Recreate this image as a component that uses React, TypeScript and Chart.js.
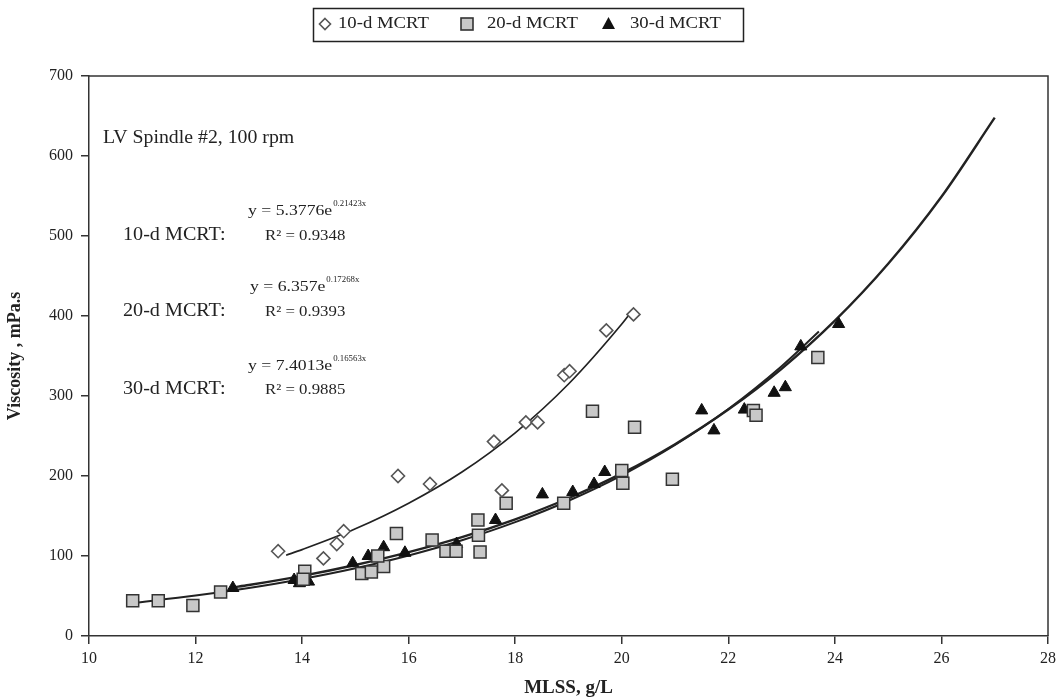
import React, { useEffect, useRef } from "react";
import { Chart, registerables } from "chart.js";

Chart.register(...registerables);

const FONT = "'Liberation Serif', 'Times New Roman', serif";

const xTickValues = [10, 12, 14, 16, 18, 20, 22, 24, 26, 28];
const yTickValues = [0, 100, 200, 300, 400, 500, 600, 700];

const seriesNames = ["10-d MCRT", "20-d MCRT", "30-d MCRT"];

// 10-d MCRT observations
const mlss10 = [13.55, 14.4, 14.65, 14.78, 15.8, 16.4, 17.6, 17.75, 18.2, 18.42, 18.92, 19.02, 19.71, 20.22];
const visc10 = [106, 97, 115, 131, 200, 190, 243, 182, 267, 267, 326, 331, 382, 402];

// 20-d MCRT observations
const mlss20 = [10.82, 11.3, 11.95, 12.47, 14.05, 14.02, 15.12, 15.3, 15.53, 15.42, 15.77, 16.44, 16.7, 16.89, 17.3, 17.31, 17.34, 17.83, 18.91, 19.45, 20.0, 20.02, 20.24, 20.95, 22.47, 22.52, 23.68];
const visc20 = [44, 44, 38, 55, 81, 71, 78, 80, 87, 100, 128, 120, 106, 106, 145, 126, 105, 166, 166, 281, 207, 191, 261, 196, 282, 276, 348];

// 30-d MCRT observations
const mlss30 = [12.7, 13.85, 13.95, 14.12, 14.95, 15.24, 15.53, 15.93, 16.9, 17.63, 18.51, 19.08, 19.48, 19.68, 21.5, 21.73, 22.3, 22.86, 23.07, 23.36, 24.07];
const visc30 = [60, 70, 66, 68, 91, 100, 111, 104, 115, 145, 177, 180, 190, 205, 282, 257, 283, 304, 311, 362, 390];

// trend curves
const fit10X = [13.7, 14, 15, 16, 17, 18, 19, 20, 20.2];
const fit10Y = [101, 108, 134, 166, 205, 254, 315, 390, 407];
const fit20X = [10.8, 12, 13, 14, 15, 16, 17, 18, 19, 20, 21, 22, 23, 23.7];
const fit20Y = [41, 50.5, 60, 71.3, 84.7, 100.7, 119.7, 142.3, 169.1, 200.9, 238.8, 283.8, 337.3, 380.6];
const fit30X = [12.7, 13, 14, 15, 16, 17, 18, 19, 20, 21, 22, 23, 24, 25, 26, 27];
const fit30Y = [60.7, 63.7, 75.2, 88.8, 104.8, 123.6, 145.9, 172.2, 203.2, 239.8, 283.0, 334.0, 394.1, 465.2, 549.0, 647.9];

const noteText = "LV Spindle #2, 100 rpm";
const eqLabels = ["10-d MCRT:", "20-d MCRT:", "30-d MCRT:"];
const eqMain = ["y = 5.3776e", "y = 6.357e", "y = 7.4013e"];
const eqExp = ["0.21423x", "0.17268x", "0.16563x"];
const eqR2 = ["R\u00B2 = 0.9348", "R\u00B2 = 0.9393", "R\u00B2 = 0.9885"];

const toPts = (xs: number[], ys: number[]) => xs.map((x, i) => ({ x, y: ys[i] }));

function drawStretched(ctx: CanvasRenderingContext2D, text: string, x: number, y: number, font: string, sx: number, align: string = "left") {
  ctx.save();
  ctx.font = font;
  ctx.textBaseline = "middle";
  ctx.textAlign = "left";
  const w = ctx.measureText(text).width * sx;
  let x0 = x;
  if (align === "center") x0 = x - w / 2;
  else if (align === "right") x0 = x - w;
  ctx.translate(x0, y);
  ctx.scale(sx, 1);
  ctx.fillText(text, 0, 0);
  ctx.restore();
  return x0 + w;
}

const decorPlugin = {
  id: "decor",
  afterDraw(chart: any) {
    const ctx: CanvasRenderingContext2D = chart.ctx;
    const ca = chart.chartArea;
    ctx.save();
    // top & right frame
    ctx.strokeStyle = "#333";
    ctx.lineWidth = 1.5;
    ctx.beginPath();
    ctx.moveTo(ca.left, ca.top);
    ctx.lineTo(ca.right, ca.top);
    ctx.lineTo(ca.right, ca.bottom);
    ctx.stroke();

    // legend box
    ctx.strokeStyle = "#222";
    ctx.lineWidth = 1.5;
    ctx.strokeRect(313.5, 8.5, 430, 33);
    const ly = 24;
    // diamond
    ctx.save();
    ctx.strokeStyle = "#555";
    ctx.fillStyle = "#fff";
    ctx.lineWidth = 1.6;
    ctx.beginPath();
    ctx.moveTo(325, ly - 5.5);
    ctx.lineTo(330.5, ly);
    ctx.lineTo(325, ly + 5.5);
    ctx.lineTo(319.5, ly);
    ctx.closePath();
    ctx.fill();
    ctx.stroke();
    // square
    ctx.fillStyle = "#c8c8c8";
    ctx.strokeStyle = "#333";
    ctx.fillRect(461, ly - 6, 12, 12);
    ctx.strokeRect(461, ly - 6, 12, 12);
    // triangle
    ctx.fillStyle = "#111";
    ctx.beginPath();
    ctx.moveTo(608.5, ly - 7);
    ctx.lineTo(615, ly + 5);
    ctx.lineTo(602, ly + 5);
    ctx.closePath();
    ctx.fill();
    ctx.restore();
    ctx.fillStyle = "#222";
    const lf = `17px ${FONT}`;
    drawStretched(ctx, seriesNames[0], 338, ly, lf, 1.1);
    drawStretched(ctx, seriesNames[1], 487, ly, lf, 1.1);
    drawStretched(ctx, seriesNames[2], 630, ly, lf, 1.1);

    // note
    drawStretched(ctx, noteText, 103, 138, `18px ${FONT}`, 1.1);

    // equations
    const labelY = [235, 311, 389];
    const eqY = [211, 287, 366];
    const eqX = [248, 250, 248];
    for (let i = 0; i < 3; i++) {
      drawStretched(ctx, eqLabels[i], 123, labelY[i], `18px ${FONT}`, 1.12);
      const end = drawStretched(ctx, eqMain[i], eqX[i], eqY[i], `15px ${FONT}`, 1.18);
      drawStretched(ctx, eqExp[i], end + 1, eqY[i] - 7, `8px ${FONT}`, 1.1);
      drawStretched(ctx, eqR2[i], 265, labelY[i] + 1, `15px ${FONT}`, 1.12);
    }
    ctx.restore();
  },
};

export default function App() {
  const ref = useRef<HTMLCanvasElement | null>(null);

  useEffect(() => {
    if (!ref.current) return;
    const chart = new Chart(ref.current, {
      type: "scatter",
      data: {
        datasets: [
          {
            label: seriesNames[0],
            data: toPts(mlss10, visc10),
            pointStyle: "rectRot",
            pointRadius: 6.5,
            pointBackgroundColor: "#ffffff",
            pointBorderColor: "#555",
            pointBorderWidth: 1.6,
            order: 0,
          },
          {
            label: seriesNames[1],
            data: toPts(mlss20, visc20),
            pointStyle: "rect",
            pointRadius: 8.5,
            pointBackgroundColor: "#c8c8c8",
            pointBorderColor: "#333",
            pointBorderWidth: 1.5,
            order: 0,
          },
          {
            label: seriesNames[2],
            data: toPts(mlss30, visc30),
            pointStyle: "triangle",
            pointRadius: 7,
            pointBackgroundColor: "#111",
            pointBorderColor: "#111",
            pointBorderWidth: 1,
            order: 0,
          },
          {
            label: "fit10",
            data: toPts(fit10X, fit10Y),
            showLine: true,
            pointRadius: 0,
            borderColor: "#222",
            borderWidth: 1.7,
            cubicInterpolationMode: "monotone",
            order: 1,
          },
          {
            label: "fit20",
            data: toPts(fit20X, fit20Y),
            showLine: true,
            pointRadius: 0,
            borderColor: "#222",
            borderWidth: 2,
            cubicInterpolationMode: "monotone",
            order: 1,
          },
          {
            label: "fit30",
            data: toPts(fit30X, fit30Y),
            showLine: true,
            pointRadius: 0,
            borderColor: "#222",
            borderWidth: 2.4,
            cubicInterpolationMode: "monotone",
            order: 1,
          },
        ],
      },
      options: {
        animation: false,
        responsive: false,
        devicePixelRatio: 1,
        layout: { padding: { top: 76, right: 9, left: 0, bottom: 0 } },
        plugins: { legend: { display: false }, tooltip: { enabled: false } },
        scales: {
          x: {
            type: "linear",
            min: 10,
            max: 28,
            afterBuildTicks: (s: any) => {
              s.ticks = xTickValues.map((v) => ({ value: v }));
            },
            afterFit: (s: any) => {
              s.height = 64;
              s.paddingRight = 0;
              s.paddingLeft = 0;
            },
            grid: { drawOnChartArea: false, drawTicks: true, tickLength: 8, color: "#333", tickColor: "#333", lineWidth: 1.5 },
            border: { display: true, color: "#333", width: 1.5 },
            ticks: { color: "#222", font: { size: 16, family: FONT }, padding: 5, maxRotation: 0 },
            title: { display: true, text: "MLSS, g/L", color: "#222", font: { size: 19, weight: "bold", family: FONT }, padding: { top: 0, bottom: 1 } },
          },
          y: {
            type: "linear",
            min: 0,
            max: 700,
            afterBuildTicks: (s: any) => {
              s.ticks = yTickValues.map((v) => ({ value: v }));
            },
            afterFit: (s: any) => {
              s.width = 89;
            },
            grid: { drawOnChartArea: false, drawTicks: true, tickLength: 8, color: "#333", tickColor: "#333", lineWidth: 1.5 },
            border: { display: true, color: "#333", width: 1.5 },
            ticks: { color: "#222", font: { size: 16, family: FONT }, padding: 8 },
            title: { display: true, text: "Viscosity , mPa.s", color: "#222", font: { size: 18, weight: "bold", family: FONT }, padding: { top: 5, bottom: 0 } },
          },
        },
      },
      plugins: [decorPlugin],
    } as any);
    return () => chart.destroy();
  }, []);

  return (
    <div style={{ position: "absolute", left: 0, top: 0, width: 1058, height: 700, background: "#fff" }}>
      <canvas ref={ref} width={1058} height={700} style={{ display: "block" }} />
    </div>
  );
}
